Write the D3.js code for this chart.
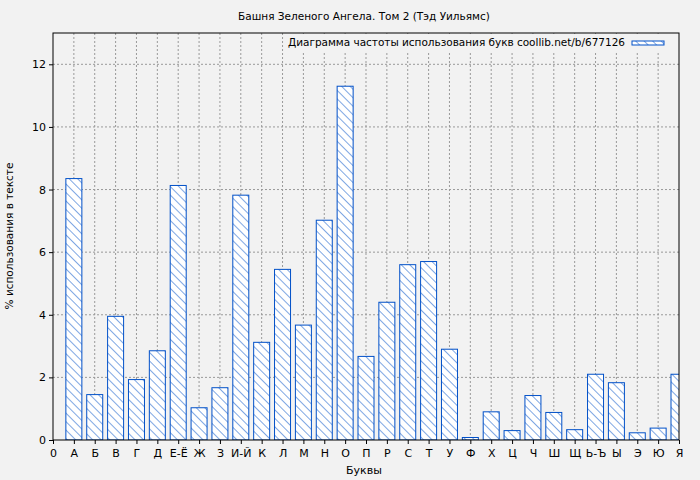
<!DOCTYPE html><html><head><meta charset="utf-8"><script src="https://cdn.jsdelivr.net/npm/d3@7"></script>
<style>body{margin:0;background:#f2f2f2}text{font-family:"DejaVu Sans";}</style></head><body><svg id="c" width="700" height="480"></svg>
<script>
const letters=["А","Б","В","Г","Д","Е-Ё","Ж","З","И-Й","К","Л","М","Н","О","П","Р","С","Т","У","Ф","Х","Ц","Ч","Ш","Щ","Ь-Ъ","Ы","Э","Ю","Я"];
const values=[8.35,1.45,3.95,1.93,2.85,8.13,1.03,1.67,7.82,3.12,5.45,3.67,7.02,11.3,2.67,4.4,5.6,5.7,2.9,0.08,0.9,0.3,1.42,0.88,0.33,2.1,1.83,0.23,0.38,2.1];
const yTicks=[0,2,4,6,8,10,12];
const svg=d3.select("#c");
const L=53,R=679,T=33,B=440;
const x=d3.scaleLinear().domain([0,30]).range([L,R]);
const y=d3.scaleLinear().domain([0,13]).range([B,T]);
const defs=svg.append("defs");
const p=defs.append("pattern").attr("id","h").attr("patternUnits","userSpaceOnUse").attr("width",6).attr("height",6).attr("patternTransform","rotate(-45)");
p.append("rect").attr("width",6).attr("height",6).attr("fill","#fff");
p.append("line").attr("x1",0).attr("y1",0).attr("x2",0).attr("y2",6).attr("stroke","#0050c8").attr("stroke-width",1);
defs.append("clipPath").attr("id","cp").append("rect").attr("x",L).attr("y",T).attr("width",R-L).attr("height",B-T);
svg.append("rect").attr("x",L).attr("y",T).attr("width",R-L).attr("height",B-T).attr("fill","#f2f2f2");
const g=svg.append("g");
g.selectAll(".vx").data(d3.range(1,30)).join("line").attr("x1",d=>x(d)).attr("x2",d=>x(d)).attr("y1",T).attr("y2",B).attr("stroke","#999").attr("stroke-dasharray","2,2");
g.selectAll(".hy").data(yTicks.slice(1)).join("line").attr("x1",L).attr("x2",R).attr("y1",d=>y(d)).attr("y2",d=>y(d)).attr("stroke","#999").attr("stroke-dasharray","2,2");
svg.append("g").attr("clip-path","url(#cp)").selectAll("rect").data(values).join("rect")
 .attr("x",(d,i)=>x(i+1)-8).attr("width",16).attr("y",d=>y(d)).attr("height",d=>B-y(d))
 .attr("fill","url(#h)").attr("stroke","#0050c8").attr("stroke-width",1);
svg.append("rect").attr("x",284).attr("y",34).attr("width",394).attr("height",18).attr("fill","#f2f2f2");
svg.append("text").attr("x",625).attr("y",46).attr("text-anchor","end").attr("font-size",10.5).attr("textLength",337).text("Диаграмма частоты использования букв coollib.net/b/677126");
svg.append("rect").attr("x",632).attr("y",41).attr("width",32).attr("height",4).attr("fill","url(#h)").attr("stroke","#0050c8");
svg.append("rect").attr("x",L).attr("y",T).attr("width",R-L).attr("height",B-T).attr("fill","none").attr("stroke","#000");
const ya=svg.append("g").attr("transform",`translate(${L},0)`).call(d3.axisLeft(y).tickValues(yTicks).tickSize(4));
const xa=svg.append("g").attr("transform",`translate(0,${B})`).call(d3.axisBottom(x).tickValues(d3.range(0,31)).tickFormat(d=>d===0?"0":letters[d-1]).tickSize(4));
[ya,xa].forEach(a=>{a.select(".domain").remove();a.selectAll("text").attr("font-size",11).attr("font-family","DejaVu Sans").attr("fill","#000");});
xa.selectAll("text").attr("dy","0.9em");
svg.append("text").attr("x",364).attr("y",20).attr("text-anchor","middle").attr("font-size",10.5).text("Башня Зеленого Ангела. Том 2 (Тэд Уильямс)");
svg.append("text").attr("x",364).attr("y",474).attr("text-anchor","middle").attr("font-size",11).text("Буквы");
svg.append("text").attr("transform","translate(13,236) rotate(-90)").attr("text-anchor","middle").attr("font-size",10.5).text("% использования в тексте");
</script></body></html>
